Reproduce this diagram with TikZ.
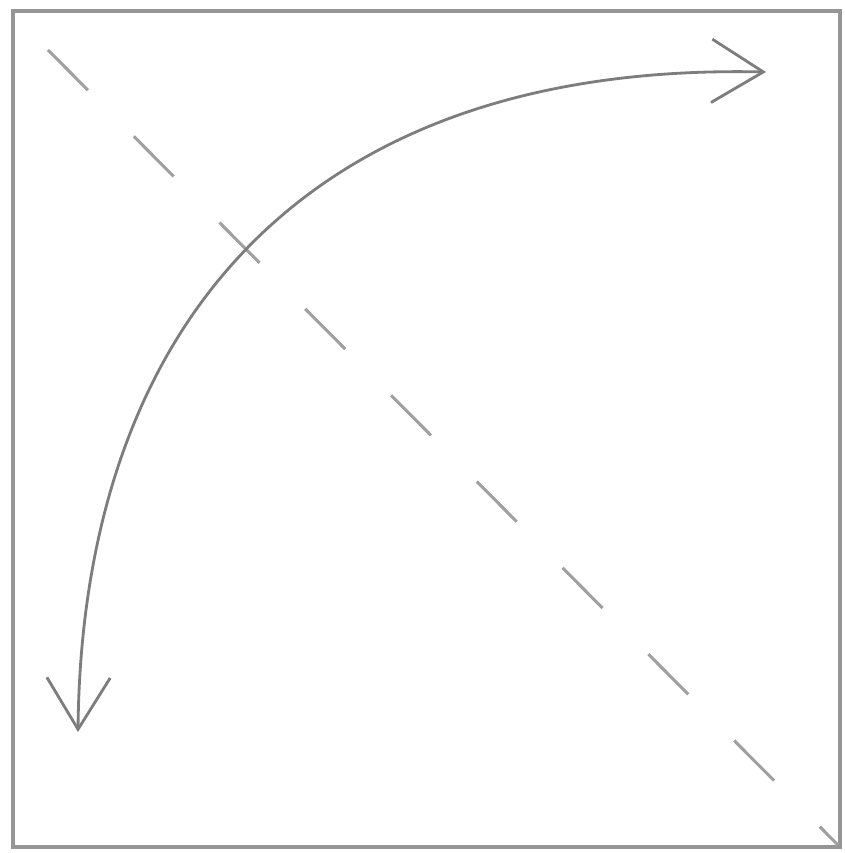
\documentclass[tikz,border=0pt]{standalone}
\usetikzlibrary{arrows.meta}
\definecolor{framegray}{RGB}{150,150,150}
\definecolor{arcgray}{RGB}{125,125,125}
\definecolor{dashgray}{RGB}{160,160,160}
\tikzset{
  frameline/.style={draw=framegray, line width=3.2pt},
  arcline/.style={draw=arcgray, line width=2.4pt, line cap=round,
    {Straight Barb[length=1.55cm,width=1.9cm,line width=2.4pt]}-{Straight Barb[length=1.55cm,width=1.9cm,line width=2.4pt]}},
  diagline/.style={draw=dashgray, line width=2.6pt, dash pattern=on 1.7cm off 1.95cm}
}
\begin{document}
\begin{tikzpicture}[x=0.03cm,y=-0.03cm]
  \useasboundingbox[fill=white] (0,0) rectangle (844,853);
  \coordinate (tl) at (13,11);
  \coordinate (br) at (840,847);
  \draw[frameline] (tl) rectangle (br);
  \coordinate (d1) at (48,50);
  \coordinate (d2) at (838,845);
  \draw[diagline] (d1) -- (d2);
  \coordinate (e) at (78,732);
  \coordinate (s) at (766,72);
  \coordinate (c1) at (82,330);
  \coordinate (c2) at (300,62);
  \draw[arcline] (e) .. controls (c1) and (c2) .. (s);
\end{tikzpicture}
\end{document}
